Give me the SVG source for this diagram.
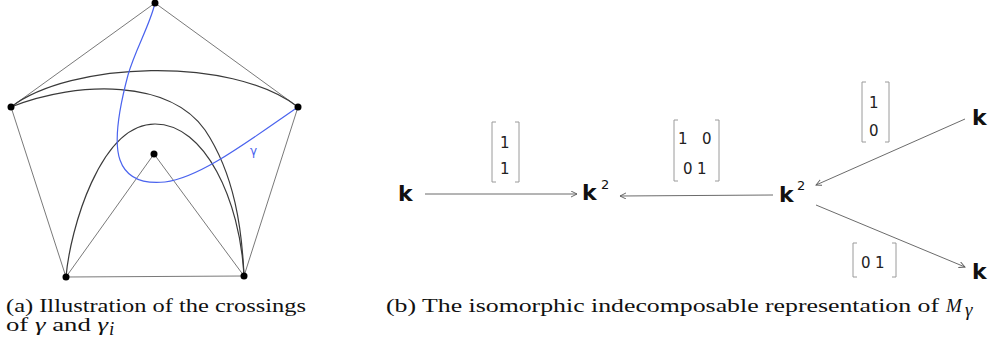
<svg xmlns="http://www.w3.org/2000/svg" width="993" height="354" viewBox="0 0 993 354">
<style>
.edge{fill:none;stroke:#6a6a6a;stroke-width:0.9}
.arc{fill:none;stroke:#3a3a3a;stroke-width:1.2}
.gam{fill:none;stroke:#4a63ee;stroke-width:1.2}
.dot{fill:#000}
.arr{fill:none;stroke:#5a5a5a;stroke-width:0.9}
.brk{fill:none;stroke:#9a9a9a;stroke-width:1}
.k{font-family:"DejaVu Sans",sans-serif;font-weight:bold;font-size:22px;fill:#111}
.sup{font-family:"DejaVu Sans",sans-serif;font-size:13px;fill:#111}
.ent{font-family:"DejaVu Sans",sans-serif;font-size:15px;fill:#222}
.cap{font-family:"Liberation Serif",serif;font-size:19px;fill:#111}
</style>
<defs>
<marker id="ah" markerWidth="8" markerHeight="8" refX="6" refY="3" orient="auto" markerUnits="userSpaceOnUse">
<path d="M0,0 L6,3 L0,6" fill="none" stroke="#5a5a5a" stroke-width="0.9"/>
</marker>
</defs>
<g id="panel-a">
<g id="edges">
<path class="edge" d="M155,3 L11,107 M155,3 L298,107 M11,107 L66,277 M298,107 L244,276 M66,277 L244,276 M154,154 L66,277 M154,154 L244,276"/>
<path class="arc" d="M11,107 C70,62 230,55 298,107"/>
<path class="arc" d="M11,107 C80,80 170,80 205,130 C235,175 242,230 244,276"/>
<path class="arc" d="M66,277 C70,230 100,124 155,124 C205,124 240,200 244,276"/>
<path class="gam" d="M155,3 C150,25 135,50 128,75 C120,105 113,140 120,160 C127,180 145,184 165,182 C200,178 250,140 298,107"/>
<text x="250" y="155" style="font-family:'DejaVu Sans',sans-serif;font-size:12px;fill:#4a63ee">γ</text>
</g>
<g id="vertices">
<circle class="dot" cx="155" cy="3" r="3.5"/>
<circle class="dot" cx="11" cy="107" r="3.5"/>
<circle class="dot" cx="298" cy="107" r="3.5"/>
<circle class="dot" cx="66" cy="277" r="3.5"/>
<circle class="dot" cx="244" cy="276" r="3.5"/>
<circle class="dot" cx="154" cy="154" r="3.5"/>
</g>
</g>
<g id="connectors">
<line class="arr" x1="425" y1="194" x2="577" y2="194" marker-end="url(#ah)"/>
<line class="arr" x1="773" y1="195" x2="620" y2="196" marker-end="url(#ah)"/>
<line class="arr" x1="965" y1="119" x2="816" y2="185" marker-end="url(#ah)"/>
<line class="arr" x1="816" y1="205" x2="965" y2="267" marker-end="url(#ah)"/>
</g>
<g id="node-k1"><text class="k" x="398" y="201">k</text></g>
<g id="node-k2a"><text class="k" x="582" y="200">k</text><text class="sup" x="601" y="189">2</text></g>
<g id="node-k2b"><text class="k" x="779" y="202">k</text><text class="sup" x="797" y="190">2</text></g>
<g id="node-k3"><text class="k" x="972" y="125">k</text></g>
<g id="node-k4"><text class="k" x="972" y="279">k</text></g>
<g id="label-m1">
<path class="brk" d="M496,122 H492 V182 H496 M515,122 H519 V182 H515"/>
<text class="ent" x="500" y="148">1</text><text class="ent" x="500" y="174">1</text>
</g>
<g id="label-m2">
<path class="brk" d="M678,120 H674 V181 H678 M715,120 H719 V181 H715"/>
<text class="ent" x="678" y="144">1</text><text class="ent" x="702" y="144">0</text>
<text class="ent" x="683" y="174">0</text><text class="ent" x="697" y="174">1</text>
</g>
<g id="label-m3">
<path class="brk" d="M866,82 H862 V142 H866 M885,82 H889 V142 H885"/>
<text class="ent" x="869" y="108">1</text><text class="ent" x="869" y="136">0</text>
</g>
<g id="label-m4">
<path class="brk" d="M857,243 H853 V277 H857 M892,243 H896 V277 H892"/>
<text class="ent" x="861" y="268">0</text><text class="ent" x="875" y="268">1</text>
</g>
<g id="captions">
<text class="cap" x="6" y="312" textLength="300" lengthAdjust="spacingAndGlyphs">(a) Illustration of the crossings</text>
<text class="cap" x="6" y="331" textLength="102" lengthAdjust="spacingAndGlyphs">of <tspan font-style="italic">γ</tspan> and <tspan font-style="italic">γ</tspan></text>
<text class="cap" x="109" y="335" font-style="italic" font-size="13">i</text>
<text class="cap" x="386" y="312" textLength="553" lengthAdjust="spacingAndGlyphs">(b) The isomorphic indecomposable representation of</text>
<text class="cap" x="946" y="312" font-style="italic">M</text>
<text class="cap" x="965" y="316" font-style="italic" font-size="13">γ</text>
</g>
</svg>
